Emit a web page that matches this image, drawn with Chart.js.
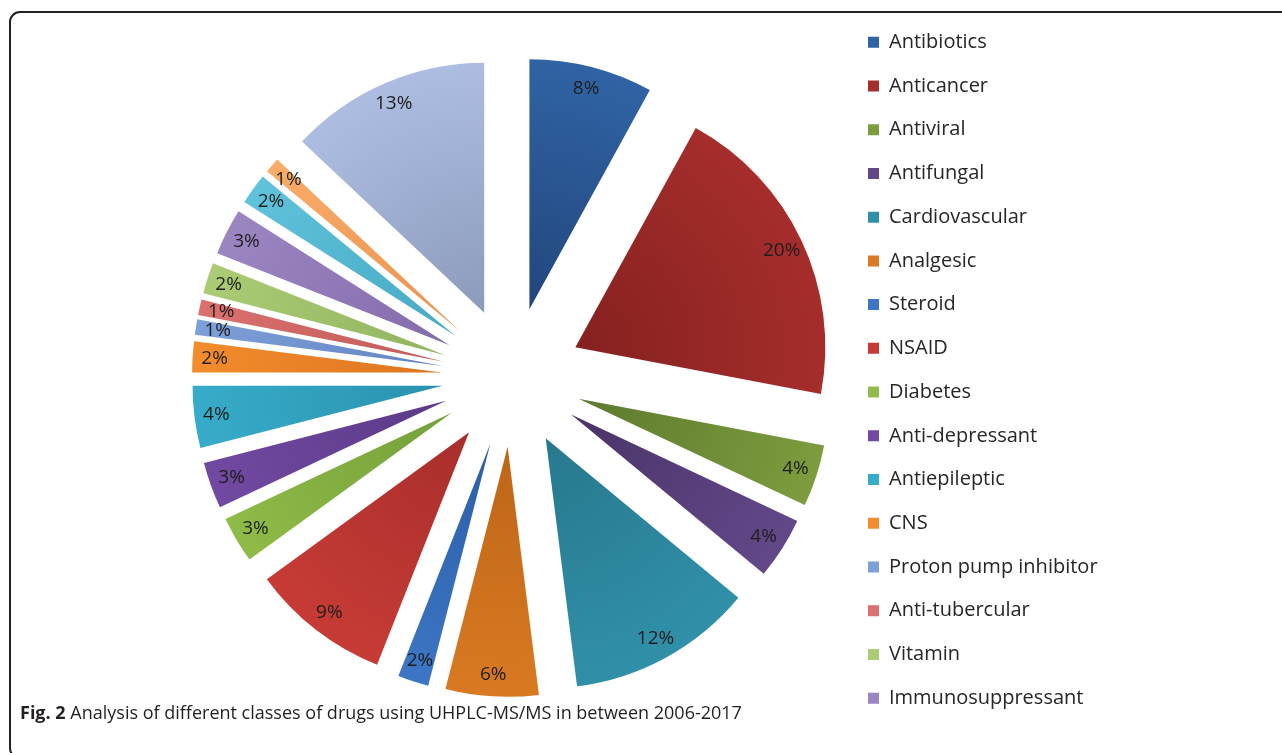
<!DOCTYPE html>
<html>
<head>
<meta charset="utf-8">
<script src="https://cdn.jsdelivr.net/npm/chart.js@4/dist/chart.umd.min.js"></script>
<style>
  html, body { margin: 0; padding: 0; background: #fff; }
  #wrap { position: relative; width: 1282px; height: 753px; overflow: hidden; }
  #frame {
    position: absolute; left: 9px; top: 11px; width: 1300px; height: 748px;
    border: 2px solid #222; border-radius: 11px; box-sizing: border-box;
  }
  #chart { position: absolute; left: 0; top: 0; }
  #caption {
    position: absolute; left: 20px; top: 700px; font-family: "Open Sans", sans-serif;
    font-size: 18px; color: #231f20; white-space: nowrap;
  }
  #caption b { font-weight: 700; }
</style>
</head>
<body>
<div id="wrap">
  <div id="frame"></div>
  <canvas id="chart" width="1282" height="753"></canvas>
  <div id="caption"><b>Fig. 2</b> Analysis of different classes of drugs using UHPLC-MS/MS in between 2006-2017</div>
</div>
<script>
// categories (the last three slices have no visible legend entry in the figure)
const categories = [
  "Antibiotics", "Anticancer", "Antiviral", "Antifungal", "Cardiovascular",
  "Analgesic", "Steroid", "NSAID", "Diabetes", "Anti-depressant",
  "Antiepileptic", "CNS", "Proton pump inhibitor", "Anti-tubercular",
  "Vitamin", "Immunosuppressant", "", "", ""
];
// share of studies, percent
const shares = [8, 20, 4, 4, 12, 6, 2, 9, 3, 3, 4, 2, 1, 1, 2, 3, 2, 1, 13];

// outer (lighter) and inner (darker) shade of each slice
const outerColors = [
  "#3063a4", "#a52d2c", "#7c9c3e", "#634889", "#3090a8", "#d97a22",
  "#3c76c4", "#c73b36", "#8fbb48", "#7249a2", "#37acca", "#f38c2c",
  "#7da0d9", "#da716e", "#abcb75", "#9c86c2", "#60c2db", "#f9ad69", "#adbde1"
];
const innerColors = [
  "#22467c", "#85211f", "#5d7a2e", "#4a3368", "#27788d", "#bd6518",
  "#2d5ea8", "#a82e2b", "#74a03a", "#5b3a87", "#2a92ae", "#dc7520",
  "#6284c2", "#c25a58", "#92b45e", "#836ba9", "#46aac4", "#e9914e", "#8c9bbb"
];

const R = 250;        // pie radius
const EXPLODE = 70;   // how far every slice is pulled out
const CENTER_X = 512, CENTER_Y = 377;
const FONT = '"Open Sans", sans-serif';
const LEGEND_SIZE = 20, LEGEND_PAD = 23.73, BOX = 11, LEGEND_TOP = 8.5;

function midAngle(i) {
  const total = shares.reduce((s, v) => s + v, 0);
  const before = shares.slice(0, i).reduce((s, v) => s + v, 0);
  return (before + shares[i] / 2) / total * 2 * Math.PI - Math.PI / 2;
}

function sliceFill(ctx) {
  const chart = ctx.chart;
  const a = chart.chartArea;
  const i = ctx.dataIndex;
  if (!a || i === undefined) return outerColors[i] || "#888";
  const m = midAngle(i);
  const cx = (a.left + a.right) / 2 + Math.cos(m) * EXPLODE;
  const cy = (a.top + a.bottom) / 2 + Math.sin(m) * EXPLODE;
  const g = chart.ctx.createRadialGradient(cx, cy, 0, cx, cy, R);
  g.addColorStop(0, innerColors[i]);
  g.addColorStop(1, outerColors[i]);
  return g;
}

// exploded pie: move each slice out along its bisector
const explode = {
  id: "explode",
  afterDatasetUpdate(chart, args) {
    args.meta.data.forEach(arc => {
      const mid = (arc.startAngle + arc.endAngle) / 2;
      arc.x += Math.cos(mid) * EXPLODE;
      arc.y += Math.sin(mid) * EXPLODE;
    });
  }
};

// percent labels near the outer end of each slice
const sliceLabels = {
  id: "sliceLabels",
  afterDatasetsDraw(chart) {
    const ctx = chart.ctx;
    const meta = chart.getDatasetMeta(0);
    ctx.save();
    ctx.font = "19px " + FONT;
    ctx.fillStyle = "#1e1e1e";
    ctx.textAlign = "center";
    ctx.textBaseline = "middle";
    meta.data.forEach((arc, i) => {
      const mid = (arc.startAngle + arc.endAngle) / 2;
      const d = R - 22;
      ctx.fillText(shares[i] + "%", arc.x + Math.cos(mid) * d, arc.y + Math.sin(mid) * d);
    });
    ctx.restore();
  }
};

// legend sits right of the pie; size the right padding from the longest label
const measure = document.createElement("canvas").getContext("2d");
measure.font = LEGEND_SIZE + "px " + FONT;
const longest = Math.max(...categories.map(c => measure.measureText(c).width));
const legendWidth = LEGEND_PAD + BOX + LEGEND_SIZE / 2 + longest + 10;
const legendLeft = 868 - LEGEND_PAD;

new Chart(document.getElementById("chart"), {
  type: "pie",
  data: {
    labels: categories,
    datasets: [{
      data: shares,
      backgroundColor: sliceFill,
      borderWidth: 0
    }]
  },
  options: {
    responsive: false,
    animation: false,
    radius: R,
    layout: {
      padding: {
        left: 2 * CENTER_X - legendLeft,
        right: 1282 - legendLeft - legendWidth,
        top: LEGEND_TOP,
        bottom: 753 - (2 * CENTER_Y - LEGEND_TOP)
      }
    },
    plugins: {
      tooltip: { enabled: false },
      legend: {
        position: "right",
        align: "start",
        labels: {
          boxWidth: BOX,
          boxHeight: BOX,
          padding: LEGEND_PAD,
          color: "#262626",
          font: { family: "Open Sans", size: LEGEND_SIZE },
          filter: item => item.text !== "",
          generateLabels: chart => {
            const items = Chart.overrides.pie.plugins.legend.labels.generateLabels(chart);
            items.forEach(it => {
              it.fillStyle = outerColors[it.index];
              it.strokeStyle = outerColors[it.index];
              it.lineWidth = 0;
            });
            return items;
          }
        }
      }
    }
  },
  plugins: [explode, sliceLabels]
});
</script>
</body>
</html>
